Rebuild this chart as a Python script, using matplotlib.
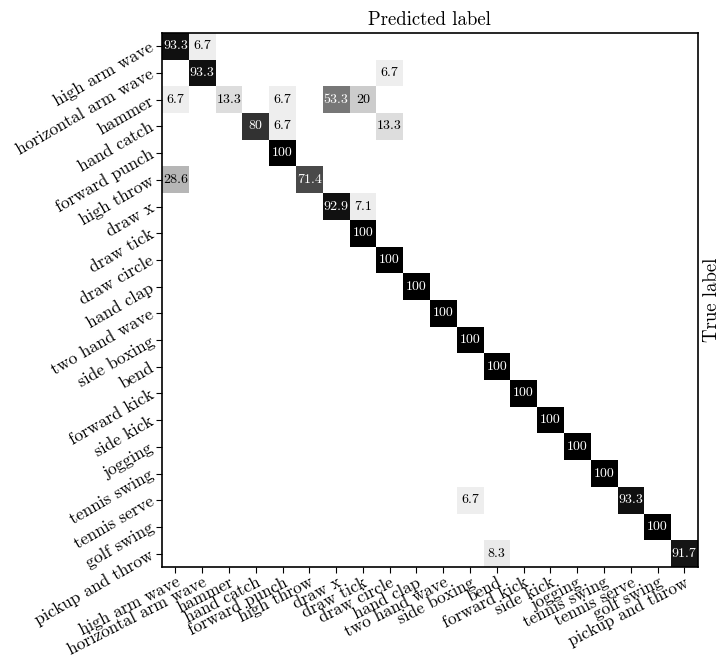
import numpy as np
import matplotlib
matplotlib.use("Agg")
import matplotlib.pyplot as plt

plt.rcParams['font.family'] = ['cmr10', 'DejaVu Serif']
plt.rcParams['mathtext.fontset'] = 'cm'
plt.rcParams['axes.formatter.use_mathtext'] = True

classes = ["high arm wave", "horizontal arm wave", "hammer", "hand catch",
           "forward punch", "high throw", "draw x", "draw tick", "draw circle",
           "hand clap", "two hand wave", "side boxing", "bend", "forward kick",
           "side kick", "jogging", "tennis swing", "tennis serve", "golf swing",
           "pickup and throw"]

# (true row, predicted col, percent)
rows = [0, 0, 1, 1, 2, 2, 2, 2, 2, 3, 3, 3, 4, 5, 5, 6, 6, 7, 8, 9, 10, 11,
        12, 13, 14, 15, 16, 17, 17, 18, 19, 19]
cols = [0, 1, 1, 8, 0, 2, 4, 6, 7, 3, 4, 8, 4, 0, 5, 6, 7, 7, 8, 9, 10, 11,
        12, 13, 14, 15, 16, 11, 17, 18, 12, 19]
vals = [93.3, 6.7, 93.3, 6.7, 6.7, 13.3, 6.7, 53.3, 20, 80, 6.7, 13.3, 100,
        28.6, 71.4, 92.9, 7.1, 100, 100, 100, 100, 100, 100, 100, 100, 100,
        100, 6.7, 93.3, 100, 8.3, 91.7]

n = len(classes)
cm = np.zeros((n, n))
for r, c, v in zip(rows, cols, vals):
    cm[r, c] = v

fig = plt.figure(figsize=(7.2, 6.6), dpi=100)
ax = fig.add_axes([0.225, 0.141, 0.744, 0.809])
ax.imshow(cm, cmap='gray_r', vmin=0, vmax=100, aspect='auto',
          interpolation='nearest')

thresh = cm.max() / 2.0
for r, c, v in zip(rows, cols, vals):
    txt = ('%g' % v)
    ax.text(c, r, txt, ha='center', va='center', fontsize=10,
            color='white' if v > thresh else 'black')

ax.set_xticks(np.arange(n))
ax.set_yticks(np.arange(n))
ax.set_xticklabels(classes, rotation=27, ha='right', va='top',
                   rotation_mode='anchor', fontsize=12.3)
ax.set_yticklabels(classes, rotation=30, ha='right', va='center',
                   rotation_mode='anchor', fontsize=12.5)
ax.tick_params(axis='both', direction='out', length=4.2, width=0.8, pad=2.5)
ax.tick_params(axis='x', pad=1.2)
for s in ax.spines.values():
    s.set_linewidth(1.2)

ax.set_title('Predicted label', fontsize=13.5, pad=6)
ax.yaxis.set_label_position('right')
ax.set_ylabel('True label', fontsize=13.5, labelpad=4)

fig.savefig('out.png', dpi=100)
